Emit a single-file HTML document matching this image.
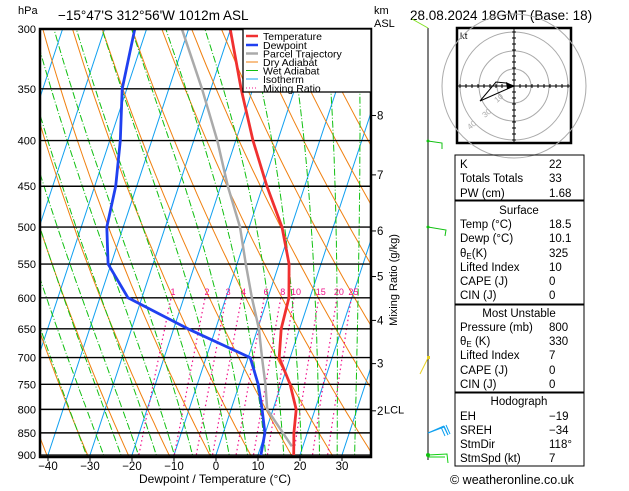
<!DOCTYPE html>
<html><head><meta charset="utf-8">
<style>
html,body{margin:0;padding:0;background:#fff;}
body{width:629px;height:486px;overflow:hidden;font-family:"Liberation Sans",sans-serif;}
svg text{font-family:"Liberation Sans",sans-serif;}
</style></head>
<body>
<svg id="chart" width="629" height="486" viewBox="0 0 629 486" xmlns="http://www.w3.org/2000/svg">
<defs><clipPath id="plotclip"><rect x="40" y="29" width="331" height="428"/></clipPath></defs>
<text x="18" y="14" font-size="11">hPa</text>
<text x="58" y="20" font-size="13.5">−15°47'S 312°56'W 1012m ASL</text>
<text x="374" y="14" font-size="11">km</text>
<text x="374" y="27" font-size="11">ASL</text>
<text x="410" y="20" font-size="13.5">28.08.2024 18GMT (Base: 18)</text>
<g id="bg" clip-path="url(#plotclip)"></g>
<g id="isobars"></g>
<g id="series" clip-path="url(#plotclip)"></g>
<g id="axes"></g>
<g>
<rect x="243" y="29" width="128" height="63" fill="#fff" stroke="#000" stroke-width="1.3"/>
<line x1="246" y1="36" x2="258" y2="36" stroke="#f03030" stroke-width="2.5"/><text x="263" y="40" font-size="10.5">Temperature</text>
<line x1="246" y1="45" x2="258" y2="45" stroke="#2040f0" stroke-width="2.5"/><text x="263" y="49" font-size="10.5">Dewpoint</text>
<line x1="246" y1="53.5" x2="258" y2="53.5" stroke="#aaa" stroke-width="2.5"/><text x="263" y="57.5" font-size="10.5">Parcel Trajectory</text>
<line x1="246" y1="62" x2="258" y2="62" stroke="#f08010" stroke-width="1"/><text x="263" y="66" font-size="10.5">Dry Adiabat</text>
<line x1="246" y1="70.5" x2="258" y2="70.5" stroke="#10c010" stroke-width="1"/><text x="263" y="74.5" font-size="10.5">Wet Adiabat</text>
<line x1="246" y1="79" x2="258" y2="79" stroke="#10a0f0" stroke-width="1"/><text x="263" y="83" font-size="10.5">Isotherm</text>
<line x1="246" y1="88" x2="258" y2="88" stroke="#f0108a" stroke-width="1" stroke-dasharray="1,2"/><text x="263" y="92" font-size="10.5">Mixing Ratio</text>
</g>
<text transform="translate(397,280) rotate(-90)" text-anchor="middle" font-size="11">Mixing Ratio (g/kg)</text>
<text x="215" y="483" text-anchor="middle" font-size="12">Dewpoint / Temperature (°C)</text>
<g id="wind">
<line x1="428" y1="28" x2="428" y2="460" stroke="#000" stroke-width="1"/>
<polyline points="412,19 428,28" stroke="#80e020" fill="none"/>
<polyline points="428,141 442,143 442,149" stroke="#10c010" fill="none"/>
<circle cx="428" cy="141" r="1.5" fill="#10c010"/>
<polyline points="428,227 446,230 445,236" stroke="#10c010" fill="none"/>
<circle cx="428" cy="227" r="1.5" fill="#10c010"/>
<polyline points="428,358 420,374" stroke="#e8d020" fill="none"/>
<rect x="427" y="356" width="3" height="3" fill="#e8d020"/>
<polyline points="428,433 444,427 448,435 M444,427 446,436" stroke="#10a0f0" fill="none"/>
<path d="M428,433 L444,426 M441,427 L445,436 M444,426 L448,435 M446,425 L450,434" stroke="#10a0f0" fill="none"/>
<path d="M428,455 L447,454 L448,463 M428,457 L445,457" stroke="#10d010" fill="none"/>
<circle cx="428" cy="455" r="2" fill="#10c010"/>
</g>
<g id="hodo">
<rect x="457" y="28" width="114" height="115" fill="#fff" stroke="#000" stroke-width="2.5"/>
<text x="460" y="39" font-size="9.5">kt</text>
<g stroke="#aaa" fill="none">
<circle cx="514" cy="86" r="17"/><circle cx="514" cy="86" r="35"/><circle cx="514" cy="86" r="54"/><circle cx="514" cy="86" r="72"/>
</g>
<text x="497" y="103" font-size="8" fill="#aaa" transform="rotate(-40 497 103)">10</text>
<text x="485" y="118" font-size="8" fill="#aaa" transform="rotate(-40 485 118)">30</text>
<text x="470" y="130" font-size="8" fill="#aaa" transform="rotate(-40 470 130)">40</text>
<line x1="458" y1="86" x2="570" y2="86" stroke="#000"/><line x1="514" y1="29" x2="514" y2="142" stroke="#000"/>
<g id="hodoticks" stroke="#000"></g>
<polyline points="514,86 506,83 496,82 480,101 514,86" stroke="#000" fill="none"/>
<polygon points="514,86 506,82 507,89" fill="#000"/>
</g>
<g font-size="11.5">
<rect x="455" y="155" width="129" height="45" fill="none" stroke="#000"/>
<rect x="455" y="201" width="129" height="103" fill="none" stroke="#000"/>
<rect x="455" y="305" width="129" height="87" fill="none" stroke="#000"/>
<rect x="455" y="393" width="129" height="73" fill="none" stroke="#000"/>
<text x="460" y="168">K</text><text x="549" y="168">22</text>
<text x="460" y="182">Totals Totals</text><text x="549" y="182">33</text>
<text x="460" y="197">PW (cm)</text><text x="549" y="197">1.68</text>
<text x="519" y="214" text-anchor="middle">Surface</text>
<text x="460" y="228">Temp (°C)</text><text x="549" y="228">18.5</text>
<text x="460" y="242">Dewp (°C)</text><text x="549" y="242">10.1</text>
<text x="460" y="257">θ<tspan font-size="8" dy="2">E</tspan><tspan dy="-2">(K)</tspan></text><text x="549" y="257">325</text>
<text x="460" y="271">Lifted Index</text><text x="549" y="271">10</text>
<text x="460" y="285">CAPE (J)</text><text x="549" y="285">0</text>
<text x="460" y="299">CIN (J)</text><text x="549" y="299">0</text>
<text x="519" y="317" text-anchor="middle">Most Unstable</text>
<text x="460" y="331">Pressure (mb)</text><text x="549" y="331">800</text>
<text x="460" y="345">θ<tspan font-size="8" dy="2">E</tspan><tspan dy="-2"> (K)</tspan></text><text x="549" y="345">330</text>
<text x="460" y="359">Lifted Index</text><text x="549" y="359">7</text>
<text x="460" y="374">CAPE (J)</text><text x="549" y="374">0</text>
<text x="460" y="388">CIN (J)</text><text x="549" y="388">0</text>
<text x="519" y="405" text-anchor="middle">Hodograph</text>
<text x="460" y="420">EH</text><text x="549" y="420">−19</text>
<text x="460" y="434">SREH</text><text x="549" y="434">−34</text>
<text x="460" y="448">StmDir</text><text x="549" y="448">118°</text>
<text x="460" y="462">StmSpd (kt)</text><text x="549" y="462">7</text>
</g>
<text x="450" y="484" font-size="12.5">© weatheronline.co.uk</text>
</svg>
<script>
const tempPressures=[900,850,800,750,700,650,600,550,500,450,400,350,300];
const tempValues=[18.5,16.8,15.5,12.1,7.4,5.6,5.0,2.4,-2.2,-9.0,-15.9,-22.8,-30.1];
const dewValues=[10.7,9.9,7.4,4.5,0.5,-16.6,-33.3,-40.7,-43.9,-45.0,-47.5,-51.1,-52.8];
const parcelPressures=[880,800,750,700,650,600,550,500,450,400,350,300];
const parcelValues=[17.4,8.6,6.2,3.3,0.3,-3.8,-7.9,-12.2,-18.3,-24.4,-32.1,-41.6];
const pressureTicks=[300,350,400,450,500,550,600,650,700,750,800,850,900];
const tempTicks=[-40,-30,-20,-10,0,10,20,30];
const kmTicks=[8,7,6,5,4,3,2];
const kmPressures=[375,437,505,568,636,711,803];
const mixRatios=[1,2,3,4,6,8,10,15,20,25];
const NS="http://www.w3.org/2000/svg";
function yP(p){return 29+387.8*Math.log(p/300);}
function xT(t,p){return 216+4.2*t+0.33*(455-yP(p));}
function mk(tag,attrs,parent){const e=document.createElementNS(NS,tag);for(const k in attrs)e.setAttribute(k,attrs[k]);parent.appendChild(e);return e;}
const bg=document.getElementById('bg'),ser=document.getElementById('series'),ax=document.getElementById('axes'),iso=document.getElementById('isobars');
function pathFrom(pts){return pts.map((q,i)=>(i?'L':'M')+q[0].toFixed(1)+','+q[1].toFixed(1)).join(' ');}
// isotherms
for(let t=-120;t<=40;t+=10){const e=mk('line',{x1:xT(t,920),y1:yP(920),x2:xT(t,290),y2:yP(290),stroke:'#10a0f0','stroke-width':1},bg);

}
// dry adiabats
for(let th=240;th<=480;th+=10){const pts=[];for(let p=920;p>=290;p-=10){pts.push([xT(th*Math.pow(p/1000,0.286)-273.15,p),yP(p)]);}
const e=mk('path',{d:pathFrom(pts),stroke:'#f08010','stroke-width':1,fill:'none'},bg);

}
// wet adiabats
function es(t){return 6.112*Math.exp(17.67*t/(t+243.5));}
for(let t0=-24;t0<=40;t0+=4){let T=t0+273.15;const pts=[];for(let p=1000;p>=290;p-=5){const tc=T-273.15;const e=es(tc);const rs=0.622*e/(p-e);
const dTdp=(287*T+2.5e6*rs)/(p*(1004+2.5e6*2.5e6*rs*0.622/(287*T*T)));
if(p<=920)pts.push([xT(tc,p),yP(p)]);T-=dTdp*5;}
const e=mk('path',{d:pathFrom(pts),stroke:'#10c010','stroke-width':1,fill:'none','stroke-dasharray':'7,2,1,2'},bg);

}
// mixing ratio
mixRatios.forEach(w=>{const pts=[];for(let p=920;p>=600;p-=20){const e=w*p/(622+w);const l=Math.log(e/6.112);const td=243.5*l/(17.67-l);pts.push([xT(td,p),yP(p)]);}
const e=mk('path',{d:pathFrom(pts),stroke:'#f0108a','stroke-width':1.2,fill:'none','stroke-dasharray':'1.5,3'},bg);


const last=pts[pts.length-1];const tx=mk('text',{x:last[0]+2,y:yP(600)-3,'font-size':9,fill:'#f0108a','text-anchor':'middle'},ax);tx.textContent=w;

});
// isobars + labels
pressureTicks.forEach(p=>{const y=yP(p);const l=mk('line',{x1:40,y1:y,x2:371,y2:y,stroke:'#000','stroke-width':1.4},iso);


const t=mk('text',{x:36,y:y+4,'font-size':11,'text-anchor':'end'},ax);t.textContent=p;

});
tempTicks.forEach(t=>{const x=xT(t,900);mk('line',{x1:x,y1:457,x2:x,y2:461,stroke:'#000'},ax);
const tx=mk('text',{x:x,y:470,'font-size':11.5,'text-anchor':'middle'},ax);tx.textContent=t<0?'−'+(-t):t;

});
kmTicks.forEach((k,i)=>{const y=yP(kmPressures[i]);mk('line',{x1:371,y1:y,x2:376,y2:y,stroke:'#000'},ax);
const t=mk('text',{x:377,y:y+4,'font-size':11.5},ax);t.textContent=k;

});
{const t=mk('text',{x:384,y:yP(800)+4,'font-size':11},ax);t.textContent='LCL';

}
// frame
mk('path',{d:'M40,29 L40,457 L371,457 L371,29 Z',stroke:'#000','stroke-width':2.5,fill:'none'},ax);
// series
function line(ps,vs,color,w,name){const pts=ps.map((p,i)=>[xT(vs[i],p),yP(p)]);const e=mk('path',{d:pathFrom(pts),stroke:color,'stroke-width':w,fill:'none','stroke-linejoin':'round'},ser);

}
line(parcelPressures,parcelValues,'#aaa',2.5,'parcel-trajectory-line');
line(tempPressures,tempValues,'#f03030',2.8,'temperature-line');
line(tempPressures,dewValues,'#2040f0',2.8,'dewpoint-line');
// hodograph ticks
const ht=document.getElementById('hodoticks');
for(let i=-54;i<=54;i+=6){if(!i)continue;mk('line',{x1:514+i,y1:84,x2:514+i,y2:88},ht);mk('line',{x1:512,y1:86+i,x2:516,y2:86+i},ht);}
</script>
</body></html>
